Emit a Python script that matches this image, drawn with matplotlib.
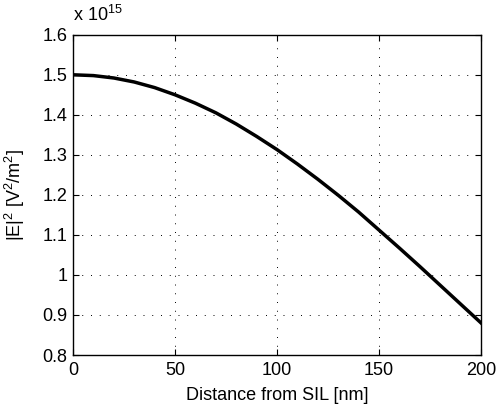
import matplotlib
matplotlib.use("Agg")
import matplotlib.pyplot as plt

plt.rcParams['font.family'] = ['Liberation Sans', 'DejaVu Sans']
plt.rcParams['mathtext.fontset'] = 'custom'
plt.rcParams['mathtext.rm'] = 'Liberation Sans'
plt.rcParams['mathtext.it'] = 'Liberation Sans'
plt.rcParams['mathtext.default'] = 'rm'

# distance from SIL [nm] and |E|^2 (units of 1e15 V^2/m^2)
distance = [0, 10, 20, 30, 40, 50, 60, 70, 80, 90, 100,
            110, 120, 130, 140, 150, 160, 170, 180, 190, 200]
e2 = [1.500, 1.498, 1.492, 1.482, 1.468, 1.450, 1.429, 1.405, 1.377, 1.346, 1.313,
      1.277, 1.239, 1.199, 1.157, 1.112, 1.067, 1.021, 0.974, 0.927, 0.880]

xticks = [0, 50, 100, 150, 200]
yticks = [0.8, 0.9, 1.0, 1.1, 1.2, 1.3, 1.4, 1.5, 1.6]
ylabels = ['0.8', '0.9', '1', '1.1', '1.2', '1.3', '1.4', '1.5', '1.6']

fs = 13

fig = plt.figure(figsize=(4.97, 4.09), dpi=100)
ax = fig.add_axes([0.147, 0.132, 0.821, 0.783])

ax.plot(distance, e2, color='black', linewidth=2.5)

ax.set_xlim(0, 200)
ax.set_ylim(0.8, 1.6)
ax.set_xticks(xticks)
ax.set_yticks(yticks)
ax.set_yticklabels(ylabels)
ax.tick_params(direction='in', top=True, right=True, labelsize=fs, length=4, width=0.8)
ax.tick_params(axis='x', pad=5)
ax.tick_params(axis='y', pad=4)
ax.grid(True, linestyle=(0, (1, 8)), color='black', linewidth=0.7)
for s in ax.spines.values():
    s.set_linewidth(1.0)

ax.set_xlabel('Distance from SIL [nm]', fontsize=fs, labelpad=6)
ax.set_ylabel(r'|E|$^{2}$ [V$^{2}$/m$^{2}$]', fontsize=fs, labelpad=4)
ax.yaxis.set_label_coords(-0.147 + 14 / 408, 0.5)
fig.text(0.147, 0.94, r'x 10$^{15}$', fontsize=fs, ha='left', va='bottom')

fig.savefig('out.png', dpi=100)
